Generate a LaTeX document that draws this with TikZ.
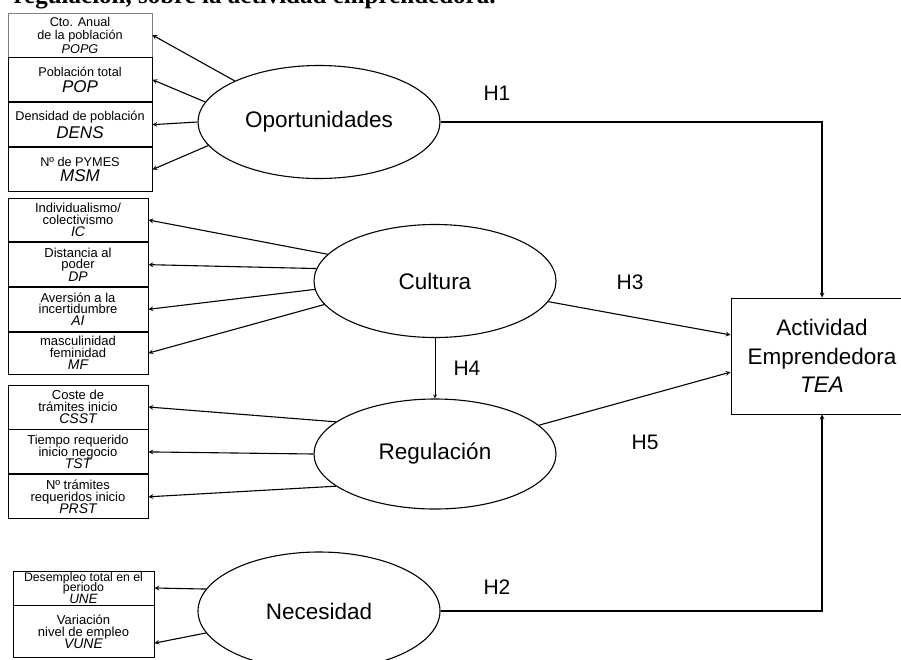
\documentclass[tikz,border=0pt]{standalone}
\usepackage{fontspec}
\setmainfont{Liberation Sans}
\newfontfamily\titlefam{Liberation Serif}
\usetikzlibrary{shapes, arrows, positioning}
\newcommand{\ab}[1]{{\fontsize{17}{17}\selectfont\itshape #1}}
\newcommand{\sab}[1]{{\fontsize{14}{12}\selectfont\itshape #1}}
\newcommand{\tightlines}{\lineskiplimit=-20pt}

\begin{document}
\begin{tikzpicture}[>=stealth, x=1pt, y=-1pt, line width=1.1pt]
	\tikzstyle{latent} = [draw, ellipse, minimum width=242pt, minimum height=113pt, inner sep=0pt, font=\fontsize{22.5}{28}\selectfont]
	\tikzstyle{ind} = [draw, rectangle, line width=0.9pt, inner sep=0pt, align=center, minimum width=140pt, minimum height=44pt, font=\fontsize{13}{11.5}\selectfont\tightlines]
	\tikzstyle{oppbox} = [minimum width=144pt, font=\fontsize{12.7}{13.5}\selectfont]
	\tikzstyle{hyp} = [inner sep=0pt, font=\fontsize{21}{21}\selectfont]

	\useasboundingbox (0,0) rectangle (901,659);

	% titulo cortado arriba
	\node[anchor=base west, inner sep=0pt, font=\titlefam\bfseries\fontsize{25}{25}\selectfont] (title) at (13,3.5) {regulación, sobre la actividad emprendedora.};

	% indicadores
	\node[ind, oppbox, draw=gray, line width=0.6pt] (popg) at (80,35) {Cto. Anual\\de la población\\\textit{POPG}};
	\node[ind, oppbox, below=0pt of popg] (pop) {Población total\\[2pt]\ab{POP}};
	\node[ind, oppbox, below=0pt of pop] (dens) {Densidad de población\\[2pt]\ab{DENS}};
	\node[ind, oppbox, below=0pt of dens] (msm) {Nº de PYMES\\[2pt]\ab{MSM}};

	\node[ind, minimum height=43.75pt] (ic) at (78,220) {Individualismo/\\colectivismo\\[0.8pt]\sab{IC}};
	\node[ind, minimum height=43.75pt, below=0pt of ic] (dp) {Distancia al\\poder\\[0.8pt]\sab{DP}};
	\node[ind, minimum height=43.75pt, below=0pt of dp] (ai) {Aversión a la\\incertidumbre\\[0.8pt]\sab{AI}};
	\node[ind, minimum height=42pt, below=0pt of ai] (mf) {masculinidad\\feminidad\\[0.8pt]\sab{MF}};

	\node[ind] (csst) at (78,407) {Coste de\\trámites inicio\\[0.8pt]\sab{CSST}};
	\node[ind, below=0pt of csst] (tst) {Tiempo requerido\\inicio negocio\\[0.8pt]\sab{TST}};
	\node[ind, below=0pt of tst] (prst) {Nº trámites\\requeridos inicio\\[0.8pt]\sab{PRST}};

	\node[ind, minimum width=141pt, minimum height=34pt, font=\fontsize{12.3}{10.3}\selectfont\tightlines] (une) at (83.5,588) {Desempleo total en el\\periodo\\[1.5pt]{\fontsize{13.5}{12}\selectfont\itshape UNE}};
	\node[ind, minimum width=141pt, minimum height=52pt, below=0pt of une] (vune) {Variación\\nivel de empleo\\[0.8pt]\sab{VUNE}};

	% constructos
	\node[latent] (opp) at (319,122) {Oportunidades};
	\node[latent] (cul) at (435,281) {Cultura};
	\node[latent, minimum height=110pt] (reg) at (435,454) {Regulación};
	\node[latent, minimum height=118pt] (nec) at (319,611) {Necesidad};

	\node[draw, rectangle, line width=1pt, minimum width=182pt, minimum height=116pt, align=center, font=\fontsize{22.5}{28.5}\selectfont] (tea) at (822,356) {Actividad\\Emprendedora\\\textit{TEA}};

	\node[hyp] (h1) at (497,93) {H1};
	\node[hyp] (h2) at (497,587) {H2};
	\node[hyp] (h3) at (630,282) {H3};
	\node[hyp] (h4) at (467,368) {H4};
	\node[hyp] (h5) at (645,442) {H5};

	\path[->]
		(opp.154) edge (popg.east)
		(opp.170) edge (pop.east)
		(opp.180) edge (dens.east)
		(opp.192) edge (msm.east)

		(cul.166) edge (ic.east)
		(cul.174) edge (dp.east)
		(cul.184) edge (ai.east)
		(cul.192) edge (mf.east)

		(reg.162) edge (csst.east)
		(reg.180) edge (tst.east)
		(reg.198) edge (prst.east)

		(nec.169) edge (une.east)
		(nec.191) edge (vune.-9)

		(cul) edge (tea.167)
		(reg) edge (tea.190)
		(cul) edge[line width=0.8pt] (reg)
	;
	\draw[->] (opp.east) -| (tea.north);
	\draw[->] (nec.east) -| (tea.south);
\end{tikzpicture}
\end{document}
